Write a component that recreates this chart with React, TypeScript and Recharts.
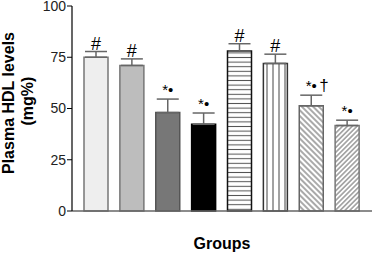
import React from 'react';
import { BarChart, Bar, XAxis, YAxis, Cell, ErrorBar, LabelList } from 'recharts';

const groups = ['G1', 'G2', 'G3', 'G4', 'G5', 'G6', 'G7', 'G8'];
const hdl = [75, 71, 48, 42.3, 78, 72, 51.3, 41.7];
const sem = [2.8, 3.2, 6.6, 5.5, 3.6, 4.5, 5.2, 2.6];
const notes = ['#', '#', '*•', '*•', '#', '#', '*•†', '*•'];
const yTicks = [0, 25, 50, 75, 100];

const fills = ['#eeeeee', '#bdbdbd', '#777777', '#000000', 'url(#hLines)', 'url(#vLines)', 'url(#dBack)', 'url(#dFwd)'];
const strokes = ['#777777', '#777777', '#555555', '#000000', '#111111', '#333333', '#666666', '#777777'];

const data = groups.map((g, i) => ({ group: g, hdl: hdl[i], err: [0, sem[i]], note: notes[i] }));

const FONT = '"Liberation Sans", Arial, sans-serif';

const NoteLabel = (props: any) => {
  const { x, y, width, height, index } = props;
  const i = index as number;
  const pxPerUnit = height / hdl[i];
  const top = y - sem[i] * pxPerUnit;
  const cx = x + width / 2;
  const note = notes[i];
  if (note === '#') {
    return (
      <text x={cx} y={top - 2} textAnchor="middle" fontSize={18} fontFamily={FONT} fill="#000">#</text>
    );
  }
  const main = note.slice(0, 2);
  const extra = note.slice(2);
  return (
    <g>
      <text x={cx} y={top - 4} textAnchor="middle" fontSize={15} fontFamily={FONT} fill="#000">{main}</text>
      {extra ? (
        <text x={cx + 8} y={top - 4} textAnchor="start" fontSize={17} fontFamily={FONT} fill="#000">{extra}</text>
      ) : null}
    </g>
  );
};

const YLabel = () => (
  <g>
    <text x={14} y={103} transform="rotate(-90, 14, 103)" textAnchor="middle" fontSize={16} fontWeight="bold" fontFamily={FONT} fill="#000">Plasma HDL levels</text>
    <text x={33} y={101} transform="rotate(-90, 33, 101)" textAnchor="middle" fontSize={16} fontWeight="bold" fontFamily={FONT} fill="#000">(mg%)</text>
  </g>
);

const XLabel = (props: any) => {
  const vb = props.viewBox || {};
  const cx = (vb.x ?? 72) + (vb.width ?? 300) / 2;
  return (
    <text x={cx} y={249} textAnchor="middle" fontSize={16} fontWeight="bold" fontFamily={FONT} fill="#000">Groups</text>
  );
};

export default function App() {
  return (
    <div style={{ position: 'absolute', left: 0, top: 0, width: 372, height: 256, background: '#fff' }}>
      <BarChart width={372} height={256} data={data} margin={{ top: 6, right: 0, left: 0, bottom: 0 }} barSize={24}>
        <defs>
          <pattern id="hLines" patternUnits="userSpaceOnUse" width={6} height={4.6}>
            <rect x={0} y={0} width={6} height={4.6} fill="#ffffff" />
            <line x1={0} y1={2.3} x2={6} y2={2.3} stroke="#555" strokeWidth={1} />
          </pattern>
          <pattern id="vLines" patternUnits="userSpaceOnUse" width={6} height={6}>
            <rect x={0} y={0} width={6} height={6} fill="#ffffff" />
            <line x1={3} y1={0} x2={3} y2={6} stroke="#444" strokeWidth={1} />
          </pattern>
          <pattern id="dBack" patternUnits="userSpaceOnUse" width={4} height={4} patternTransform="rotate(-45)">
            <rect x={0} y={0} width={4} height={4} fill="#ffffff" />
            <line x1={2} y1={0} x2={2} y2={4} stroke="#555" strokeWidth={1} />
          </pattern>
          <pattern id="dFwd" patternUnits="userSpaceOnUse" width={3.4} height={3.4} patternTransform="rotate(45)">
            <rect x={0} y={0} width={3.4} height={3.4} fill="#ffffff" />
            <line x1={1.7} y1={0} x2={1.7} y2={3.4} stroke="#666" strokeWidth={1} />
          </pattern>
        </defs>
        <XAxis
          dataKey="group"
          height={45}
          tick={false}
          tickLine={false}
          axisLine={{ stroke: '#666', strokeWidth: 1.5 }}
          padding={{ left: 6, right: 7 }}
          label={<XLabel />}
        />
        <YAxis
          width={72}
          domain={[0, 100]}
          ticks={yTicks}
          interval={0}
          tickSize={5}
          tickMargin={1}
          tick={{ fill: '#222', fontSize: 14, fontFamily: FONT }}
          axisLine={{ stroke: '#000', strokeWidth: 1.2 }}
          tickLine={{ stroke: '#000' }}
          label={<YLabel />}
        />
        <Bar dataKey="hdl" isAnimationActive={false} strokeWidth={1.5}>
          {data.map((d, i) => (
            <Cell key={d.group} fill={fills[i]} stroke={strokes[i]} />
          ))}
          <ErrorBar dataKey="err" width={11} stroke="#666" strokeWidth={1.5} direction="y" isAnimationActive={false} />
          <LabelList dataKey="note" content={<NoteLabel />} />
        </Bar>
      </BarChart>
    </div>
  );
}
